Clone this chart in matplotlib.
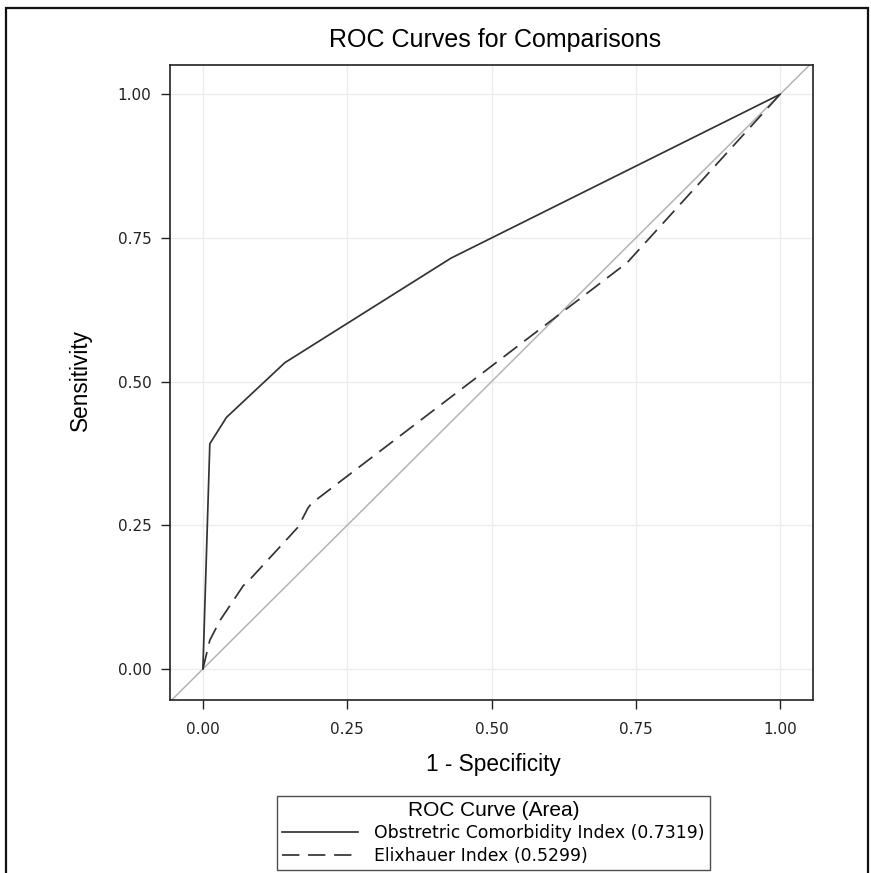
import matplotlib
matplotlib.use("Agg")
import matplotlib.pyplot as plt
from matplotlib.lines import Line2D
from matplotlib.patches import Rectangle

plt.rcParams["font.family"] = ["DejaVu Sans"]
HEAD = ["Liberation Sans", "DejaVu Sans"]

# ROC points (1 - specificity, sensitivity)
oci_fpr = [0.0, 0.012, 0.041, 0.142, 0.430, 1.0]
oci_tpr = [0.0, 0.392, 0.438, 0.533, 0.715, 1.0]
elix_fpr = [0.0, 0.012, 0.030, 0.070, 0.078, 0.165, 0.182, 0.188, 0.735, 1.0]
elix_tpr = [0.0, 0.050, 0.085, 0.145, 0.152, 0.247, 0.280, 0.288, 0.707, 1.0]
labels = ["Obstretric Comorbidity Index (0.7319)", "Elixhauer Index (0.5299)"]
ticks = [0.0, 0.25, 0.5, 0.75, 1.0]
tick_labels = ["0.00", "0.25", "0.50", "0.75", "1.00"]

W, H = 871, 873
fig = plt.figure(figsize=(W / 100, H / 100), dpi=100)
ax = fig.add_axes([170 / W, 1 - 700 / H, (813 - 170) / W, (700 - 65) / H])

ax.grid(True, color="#ececec", linewidth=1.0, zorder=0)
ax.axline((0, 0), (1, 1), color="#b4b4b4", linewidth=1.1, zorder=2)
ax.plot(oci_fpr, oci_tpr, color="#333333", linewidth=1.25, zorder=3)
ax.plot(elix_fpr, elix_tpr, color="#333333", linewidth=1.25,
        dashes=(10, 5), zorder=3)

ax.set_xlim(-0.057, 1.057)
ax.set_ylim(-0.054, 1.051)
ax.set_xticks(ticks, tick_labels)
ax.set_yticks(ticks, tick_labels)
ax.tick_params(direction="out", length=6.5, width=1.0, color="#222222",
               labelsize=11, labelcolor="#222222")
ax.tick_params(axis="x", pad=9)
ax.tick_params(axis="y", pad=7)
for sp in ax.spines.values():
    sp.set_color("#222222")
    sp.set_linewidth(1.2)

fig.text(493 / W, 1 - 765 / H, "1 - Specificity", family=HEAD,
         ha="center", va="center", fontsize=16.3)
fig.text(80 / W, 1 - 380 / H, "Sensitivity", family=HEAD, rotation=90,
         ha="center", va="center", fontsize=16.3)
fig.text(495 / W, 1 - 40 / H, "ROC Curves for Comparisons", family=HEAD,
         ha="center", va="center", fontsize=18)

handles = [Line2D([], [], color="#333333", linewidth=1.25),
           Line2D([], [], color="#333333", linewidth=1.25, dashes=(10, 5))]
leg = fig.legend(handles, labels, title="ROC Curve (Area)",
                 loc="upper center", bbox_to_anchor=(493.5 / W, 1 - 796 / H),
                 fontsize=12.4, frameon=True, fancybox=False,
                 edgecolor="#222222", borderpad=0.3, labelspacing=0.25,
                 handlelength=4.4, handletextpad=0.95, borderaxespad=0)
leg.get_frame().set_linewidth(1.0)
leg.get_title().set_family(HEAD)
leg.get_title().set_fontsize(15)

# outer border
fig.patches.append(Rectangle((6 / W, -0.05), (868 - 6) / W, 1.05 - 8 / H,
                             transform=fig.transFigure, fill=False,
                             edgecolor="#111111", linewidth=1.6))

fig.savefig("out.png", dpi=100)
